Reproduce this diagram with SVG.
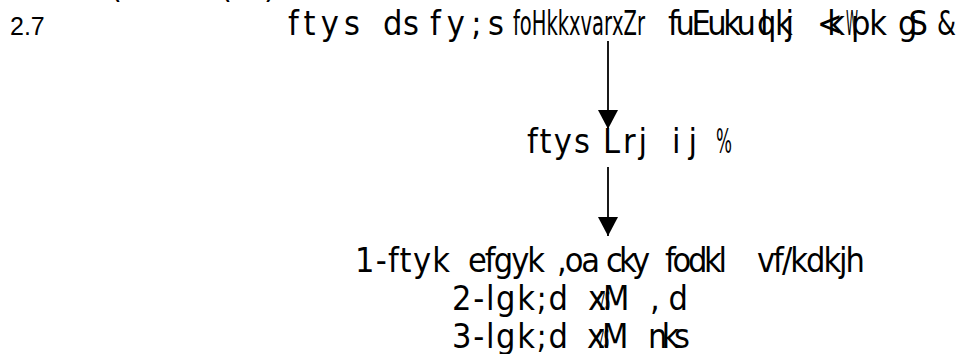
<svg xmlns="http://www.w3.org/2000/svg" width="959" height="354" viewBox="0 0 959 354">
<style>
  .h{font-family:"Liberation Sans Narrow","DejaVu Sans Condensed","Liberation Sans",sans-serif;font-size:34px;fill:#000}
  .n{font-family:"Liberation Sans",Arial,sans-serif;font-size:25px;fill:#000}
  .c{stroke:#000;stroke-width:1.8;fill:none}
</style>
<defs>
  <marker id="ah" markerUnits="userSpaceOnUse" markerWidth="20" markerHeight="20" viewBox="0 0 19 20" refX="19" refY="10" orient="auto">
    <path d="M0,0 L19,10 L0,20 z" fill="#000"/>
  </marker>
</defs>
<g id="clipped-top">
  <text class="h" x="110" y="-2">(</text>
  <text class="h" x="220" y="-2">(</text>
  <text class="h" x="264" y="-2">)</text>
</g>
<g id="number">
  <text class="n" x="10" y="35">2.7</text>
</g>
<g id="node-top">
  <text class="h" y="35">
    <tspan x="288" textLength="72">ftys</tspan>
    <tspan x="383" textLength="36">ds</tspan>
    <tspan x="430" textLength="74">fy;s</tspan>
    <tspan x="513" textLength="99" lengthAdjust="spacingAndGlyphs">foHkkxvar</tspan>
    <tspan x="612" textLength="33" lengthAdjust="spacingAndGlyphs">xZr</tspan>
    <tspan x="668" textLength="88">fuEuku</tspan>
    <tspan x="757">q</tspan><tspan x="760">l</tspan>
    <tspan x="775" textLength="19">kj</tspan>
    <tspan x="817" textLength="28">&lt;k</tspan>
    <tspan x="846" textLength="12" lengthAdjust="spacingAndGlyphs">W</tspan>
    <tspan x="851" textLength="36">pk</tspan>
    <tspan x="898" textLength="30">gS</tspan>
    <tspan x="937" textLength="19" lengthAdjust="spacingAndGlyphs">&amp;</tspan>
  </text>
</g>
<g id="node-district">
  <text class="h" y="153">
    <tspan x="527" textLength="63">ftys</tspan>
    <tspan x="603" textLength="44">Lrj</tspan>
    <tspan x="672" textLength="25">ij</tspan>
    <tspan x="716" textLength="16" lengthAdjust="spacingAndGlyphs">%</tspan>
  </text>
</g>
<g id="node-posts">
  <text class="h" y="272">
    <tspan x="355" textLength="95">1-ftyk</tspan>
    <tspan x="468" textLength="77">efgyk</tspan>
    <tspan x="557" textLength="43">,oa</tspan>
    <tspan x="606" textLength="44">cky</tspan>
    <tspan x="665" textLength="62">fodkl</tspan>
    <tspan x="757" textLength="108">vf/kdkjh</tspan>
  </text>
  <text class="h" y="310">
    <tspan x="452" textLength="116">2-lgk;d</tspan>
    <tspan x="588">x</tspan><tspan x="600" textLength="10" lengthAdjust="spacingAndGlyphs">zs</tspan><tspan x="603">M</tspan>
    <tspan x="650" textLength="38">,d</tspan>
  </text>
  <text class="h" y="348">
    <tspan x="452" textLength="116">3-lgk;d</tspan>
    <tspan x="587">x</tspan><tspan x="599" textLength="10" lengthAdjust="spacingAndGlyphs">zs</tspan><tspan x="602">M</tspan>
    <tspan x="648" textLength="42">nks</tspan>
  </text>
</g>
<g id="connectors">
  <line class="c" x1="608" y1="41" x2="608" y2="129" marker-end="url(#ah)"/>
  <line class="c" x1="608" y1="167" x2="608" y2="236" marker-end="url(#ah)"/>
</g>
</svg>
